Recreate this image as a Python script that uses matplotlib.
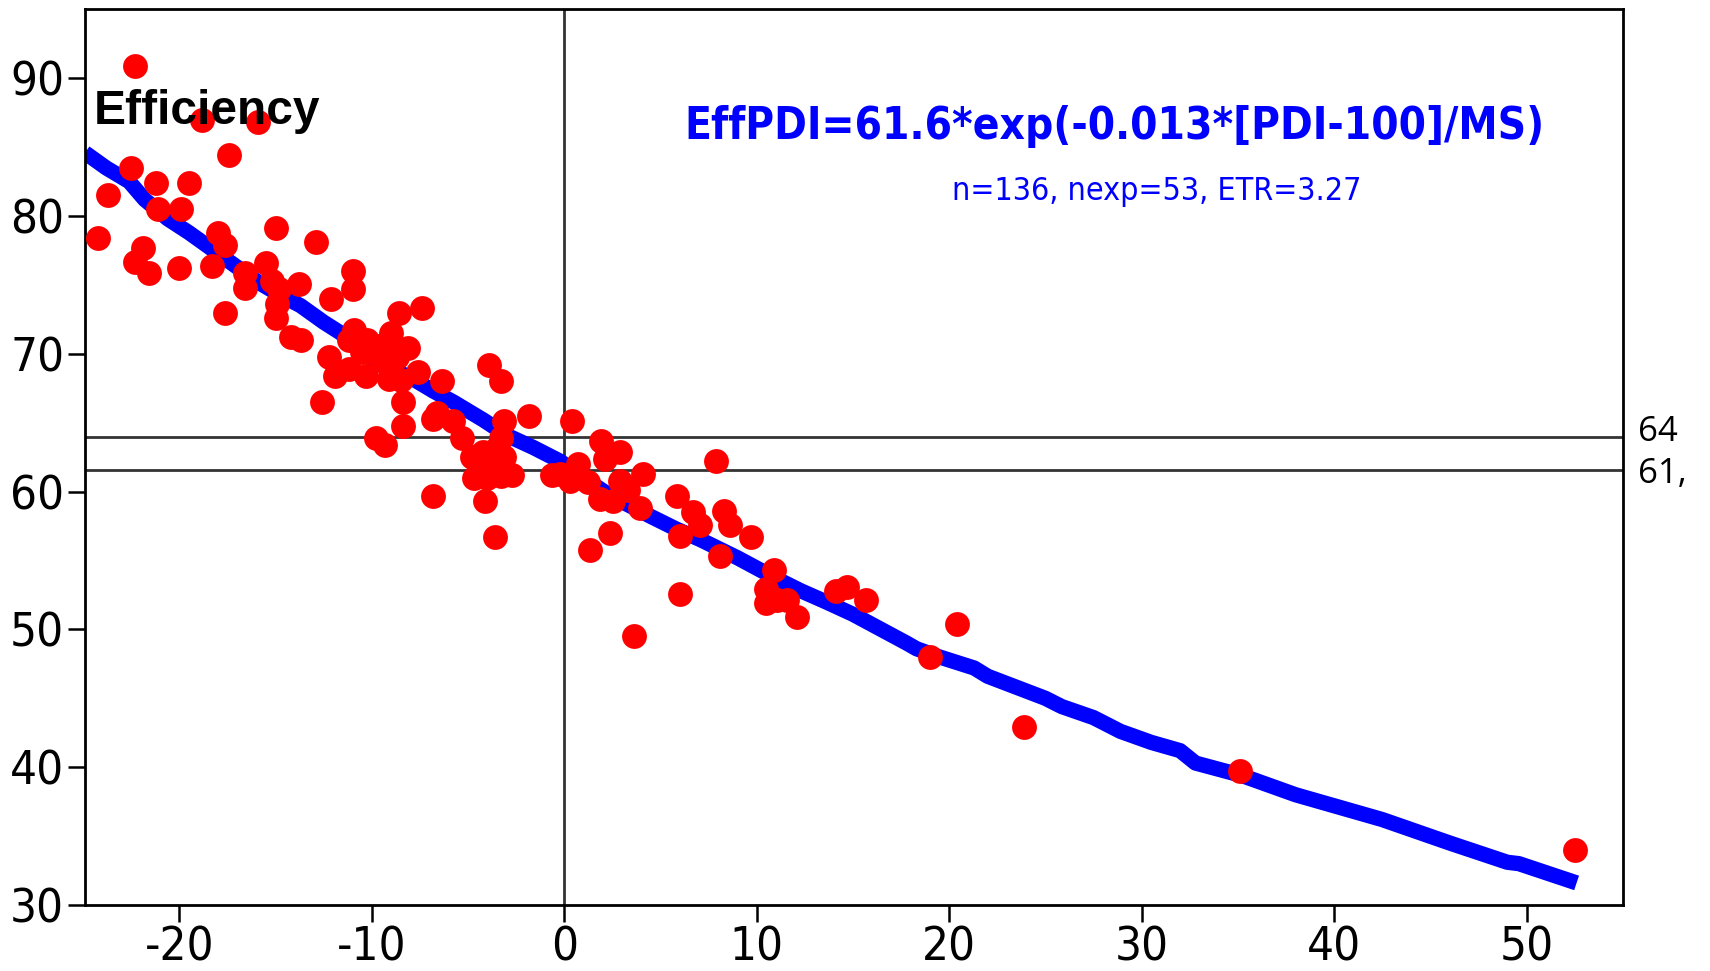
import numpy as np
import matplotlib
matplotlib.use("Agg")
import matplotlib.pyplot as plt

plt.rcParams["axes.unicode_minus"] = False

# scatter data (x = [PDI-100]/MS, y = efficiency)
x_pts = [-22.3, -18.8, -15.9, -17.4, -22.5, -23.7, -21.2, -19.5, -21.1, -19.9,
         -24.2, -21.9, -22.3, -21.6, -20.0, -18.3, -18.0, -17.6, -15.0, -12.9,
         -15.5, -16.6, -16.6, -15.2, -14.8, -13.8, -11.0, -11.0, -12.1, -17.6,
         -15.0, -14.9, -14.2, -13.7,
         -12.6, -12.2, -11.9, -11.2, -10.3, -10.9, -11.2, -10.25, -10.1, -10.5,
         -9.0, -8.6, -7.4, -8.1, -8.7, -9.4, -9.1, -8.5, -7.6, -6.35,
         -8.4, -8.4, -3.9, -3.3, -9.8, -9.3, -6.6, -6.8, -5.8, -5.3,
         -3.15, -1.85, -9.6, -9.2,
         -3.3, -3.5, -4.8, -4.2, -3.15, -2.7, -3.3, -4.0, -4.7, -4.2,
         -3.7, -6.8, -4.1, -3.6, -3.4, -3.9,
         0.4, -0.65, 0.3, 0.7, 1.26, 1.9, 2.1, 2.9, 1.87, 2.56,
         2.9, 3.3, 3.95, 4.1, 2.4, 1.35, 5.85, 6.7, 7.06, 6.0,
         7.9, 8.3, 8.6, 9.7, 8.1, 6.0, 3.6, 10.9, 10.5, 10.5,
         11.05, 11.6, 12.1, 14.1, 14.7, 15.7, 19.0, 20.4, 23.9, 35.1,
         52.5, -0.2]
y_pts = [90.9, 87.0, 86.8, 84.4, 83.5, 81.5, 82.4, 82.4, 80.5, 80.5,
         78.4, 77.7, 76.7, 75.9, 76.2, 76.4, 78.8, 77.9, 79.1, 78.1,
         76.6, 75.9, 74.8, 75.3, 74.7, 75.1, 76.0, 74.7, 74.0, 73.0,
         72.6, 73.6, 71.2, 71.0,
         66.5, 69.8, 68.4, 68.9, 68.4, 71.7, 71.0, 71.0, 70.1, 70.1,
         71.5, 73.0, 73.3, 70.4, 69.8, 69.5, 68.2, 68.1, 68.7, 68.0,
         66.5, 64.8, 69.2, 68.0, 63.9, 63.4, 65.7, 65.3, 65.1, 63.9,
         65.1, 65.5, 70.6, 70.8,
         63.9, 63.2, 62.5, 62.9, 62.5, 61.2, 61.1, 61.0, 61.0, 61.7,
         61.7, 59.7, 59.3, 56.7, 62.0, 62.3,
         65.1, 61.2, 60.8, 62.0, 60.7, 63.7, 62.4, 62.9, 59.5, 59.3,
         60.8, 60.1, 58.8, 61.3, 57.0, 55.8, 59.7, 58.5, 57.6, 56.8,
         62.2, 58.6, 57.6, 56.7, 55.3, 52.6, 49.5, 54.3, 52.9, 51.9,
         52.1, 52.1, 50.9, 52.8, 53.1, 52.1, 48.0, 50.4, 42.9, 39.7,
         34.0, 61.3]

# fitted curve
x_fit = [-24.9, -23.8, -22.6, -21.8, -20.6, -19.5, -18.5, -17.1, -15.9, -14.8,
         -13.7, -12.5, -11.6, -10.8, -9.5, -8.0, -6.8, -5.75, -4.2, -3.0,
         -1.6, -0.2, 1.0, 2.4, 4.5, 5.8, 7.1, 9.0, 11.0, 12.3,
         13.6, 15.0, 16.2, 17.8, 18.3, 19.5, 21.3, 22.0, 23.5, 25.0,
         25.85, 27.5, 28.9, 30.5, 32.0, 32.8, 35.2, 38.0, 42.5, 46.0,
         49.0, 49.6, 52.6]
y_fit = [84.6, 83.5, 82.5, 81.2, 79.8, 78.8, 77.8, 76.4, 75.2, 74.3,
         73.5, 72.3, 71.5, 70.4, 69.2, 68.3, 67.3, 66.5, 65.2, 64.1,
         63.2, 62.2, 61.0, 59.7, 58.2, 57.3, 56.5, 55.2, 53.7, 52.8,
         52.0, 51.1, 50.2, 49.0, 48.6, 48.0, 47.2, 46.6, 45.8, 45.0,
         44.4, 43.6, 42.6, 41.8, 41.2, 40.3, 39.4, 38.0, 36.2, 34.5,
         33.1, 33.0, 31.6]

h_lines = [64.0, 61.6]
h_labels = ["64", "61,"]

fig = plt.figure(figsize=(17.1, 9.71), dpi=100)
ax = fig.add_axes([0.0497, 0.068, 0.8993, 0.9223])

ax.plot(x_fit, y_fit, color="#0000ff", lw=11, solid_capstyle="butt", zorder=2)
ax.scatter(x_pts, y_pts, s=320, color="#ff0000", linewidths=0, zorder=3)

for yv, lab, nudge in zip(h_lines, h_labels, [0.3, -0.3]):
    ax.axhline(yv, color="#333333", lw=2, zorder=1)
    ax.text(55.8, yv + nudge, lab, fontsize=25, family="Open Sans", va="center",
            ha="left", clip_on=False)
ax.axvline(0, color="#333333", lw=2, zorder=1)

ax.text(-24.45, 87.6, "Efficiency", fontsize=34.5, fontweight="bold",
        family="Liberation Sans", va="center", ha="left", zorder=4)
ax.text(28.6, 86.5, "EffPDI=61.6*exp(-0.013*[PDI-100]/MS)", fontsize=31.6,
        fontweight="bold", fontstretch="condensed", family="DejaVu Sans",
        color="#0000ff", ha="center", va="center")
ax.text(30.8, 81.8, "n=136, nexp=53, ETR=3.27", fontsize=23,
        fontstretch="condensed", family="DejaVu Sans",
        color="#0000ff", ha="center", va="center")

ax.set_xlim(-24.9, 55)
ax.set_ylim(30, 95)
ax.set_xticks([-20, -10, 0, 10, 20, 30, 40, 50])
ax.set_yticks([30, 40, 50, 60, 70, 80, 90])
ax.tick_params(direction="out", length=12, width=1.8, labelsize=34, pad=3)
for lab in ax.get_xticklabels() + ax.get_yticklabels():
    lab.set_family("DejaVu Sans")
    lab.set_stretch("condensed")
for sp in ax.spines.values():
    sp.set_linewidth(2)

fig.savefig("out.png", dpi=100)
